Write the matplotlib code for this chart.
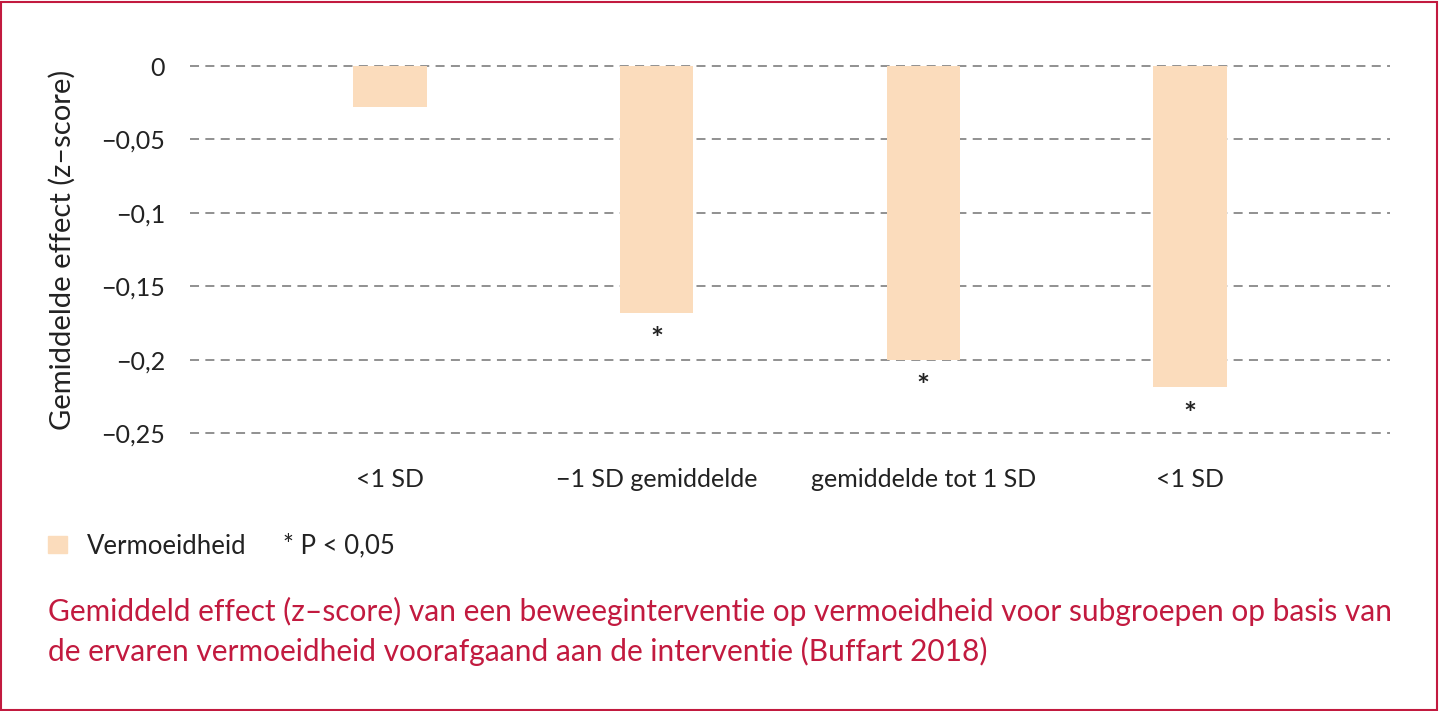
import matplotlib.pyplot as plt
from matplotlib.patches import Rectangle
from matplotlib.ticker import FuncFormatter

# data
categories = ['<1 SD', '\u22121 SD gemiddelde', 'gemiddelde tot 1 SD', '<1 SD']
effect = [-0.028, -0.168, -0.200, -0.219]
significant = [False, True, True, True]
yticks = [0, -0.05, -0.1, -0.15, -0.2, -0.25]

bar_color = '#fbdcbc'
red = '#c21a3f'
plt.rcParams['font.family'] = ['Lato', 'DejaVu Sans']

fig = plt.figure(figsize=(14.4, 7.11), dpi=100)
ax = fig.add_axes([190 / 1440, 0.3807, 1200 / 1440, 0.5367])

x = range(len(categories))
ax.bar(x, effect, width=0.275, color=bar_color, zorder=2)

# sterretjes onder significante balken
for i, v in enumerate(effect):
    if significant[i]:
        ax.annotate('*', (i, v), xytext=(0, -20), textcoords='offset points',
                    ha='center', va='center', fontsize=22, fontweight='bold',
                    color='#222222')

ax.set_xlim(-0.75, 3.75)
ax.set_ylim(-0.255, 0.005)
ax.set_yticks(yticks)
ax.yaxis.set_major_formatter(FuncFormatter(
    lambda v, p: '0' if v == 0 else ('%g' % v).replace('-', '\u2212').replace('.', ',')))
ax.set_xticks(list(x))
ax.set_xticklabels(categories)
ax.tick_params(length=0, labelsize=18, colors='#222222')
ax.tick_params(axis='y', pad=18)
ax.tick_params(axis='x', pad=20)
ax.grid(axis='y', color='#888888', linestyle=(0, (5, 3.5)), linewidth=1.3, zorder=1)
for s in ax.spines.values():
    s.set_visible(False)
ax.set_ylabel('Gemiddelde effect (z\u2013score)', fontsize=21, color='#222222', labelpad=18)

# legenda
fig.patches.append(Rectangle((48 / 1440, 1 - 553 / 711), 19 / 1440, 17 / 711,
                             transform=fig.transFigure, color=bar_color))
fig.text(87 / 1440, 1 - 546 / 711, 'Vermoeidheid', fontsize=18.5, va='center', color='#222222')
fig.text(283 / 1440, 1 - 546 / 711, '* P < 0,05', fontsize=18.5, va='center', color='#222222')

# onderschrift
fig.text(48 / 1440, 1 - 611 / 711,
         'Gemiddeld effect (z\u2013score) van een beweeginterventie op vermoeidheid voor subgroepen op basis van',
         fontsize=21.5, va='center', color=red)
fig.text(48 / 1440, 1 - 651 / 711,
         'de ervaren vermoeidheid voorafgaand aan de interventie (Buffart 2018)',
         fontsize=21.5, va='center', color=red)

# rand
fig.patches.append(Rectangle((0.001, 0.002), 0.997, 0.995, transform=fig.transFigure,
                             fill=False, edgecolor=red, linewidth=1.5))

fig.savefig('out.png', dpi=100)
